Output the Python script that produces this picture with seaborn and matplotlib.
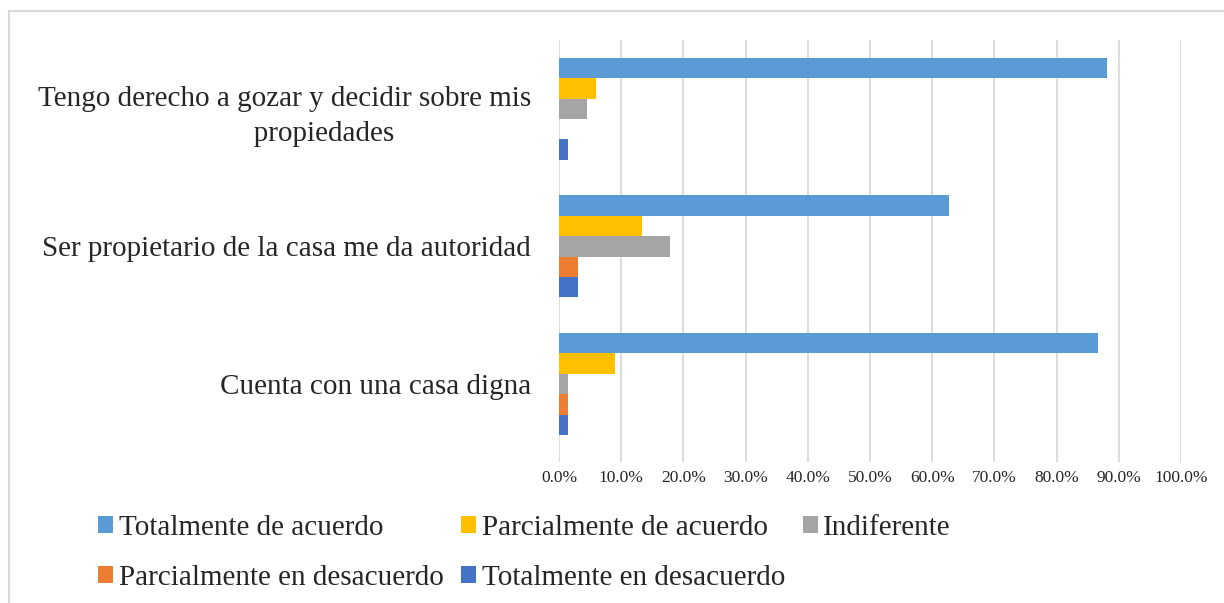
import matplotlib
matplotlib.use("Agg")
import matplotlib.pyplot as plt
import seaborn as sns
import pandas as pd
from matplotlib.patches import Rectangle

# data (percent of respondents)
categorias = ["Tengo derecho a gozar y decidir sobre mis\n           propiedades",
              "Ser propietario de la casa me da autoridad",
              "Cuenta con una casa digna"]
respuestas = ["Totalmente de acuerdo", "Parcialmente de acuerdo", "Indiferente",
              "Parcialmente en desacuerdo", "Totalmente en desacuerdo"]
totalmente_acuerdo = [88.1, 62.7, 86.6]
parcialmente_acuerdo = [6.0, 13.4, 9.0]
indiferente = [4.5, 17.9, 1.5]
parcialmente_desacuerdo = [0.0, 3.0, 1.5]
totalmente_desacuerdo = [1.5, 3.0, 1.5]
x_ticks = [0, 10, 20, 30, 40, 50, 60, 70, 80, 90, 100]
colores = ["#5B9BD5", "#FFC000", "#A5A5A5", "#ED7D31", "#4472C4"]

wide = pd.DataFrame({
    respuestas[0]: totalmente_acuerdo,
    respuestas[1]: parcialmente_acuerdo,
    respuestas[2]: indiferente,
    respuestas[3]: parcialmente_desacuerdo,
    respuestas[4]: totalmente_desacuerdo,
}, index=categorias)
df = wide.reset_index().melt(id_vars="index", var_name="respuesta", value_name="valor")
df = df.rename(columns={"index": "pregunta"})

sns.set_style("white")
plt.rcParams['font.family'] = ['Liberation Serif', 'DejaVu Serif']

fig = plt.figure(figsize=(12.24, 6.03), dpi=100)
ax = fig.add_axes([559 / 1224, 1 - 462 / 603, (1181 - 559) / 1224, 422 / 603])

sns.barplot(data=df, y="pregunta", x="valor", hue="respuesta", order=categorias,
            hue_order=respuestas, palette=colores, saturation=1, width=0.74,
            orient="h", linewidth=0, ax=ax)

ax.set_xlim(0, 100)
ax.set_ylim(2.567, -0.5)
ax.set_xticks(x_ticks)
ax.set_xticklabels([f"{v:.1f}%" for v in x_ticks], fontsize=12.5)
ax.set_xlabel("")
ax.set_ylabel("")
ax.tick_params(axis="x", length=0, pad=6)
ax.tick_params(axis="y", length=0, pad=20, labelsize=21)
for lab in ax.get_yticklabels():
    lab.set_multialignment("center")
    lab.set_linespacing(1.45)
ax.xaxis.grid(True, color="#D9D9D9", lw=1.3)
ax.set_axisbelow(True)
sns.despine(ax=ax, left=True, bottom=True)

# legend: Excel-like row order
h, l = ax.get_legend_handles_labels()
ax.get_legend().remove()
idx = [0, 3, 1, 4, 2]
fig.legend([h[i] for i in idx], [l[i] for i in idx], ncol=3, frameon=False,
           loc="upper left", bbox_to_anchor=(98 / 1224, 1 - 515 / 603),
           fontsize=21, handlelength=0.51, handleheight=0.51, handletextpad=0.2,
           columnspacing=0.6, labelspacing=0.82, borderpad=0, borderaxespad=0)

fig.add_artist(Rectangle((9 / 1224, -0.1), 1.2, 1.1 - 11 / 603, transform=fig.transFigure,
                         fill=False, edgecolor="#D9D9D9", lw=1.5))

fig.savefig("out.png", dpi=100)
